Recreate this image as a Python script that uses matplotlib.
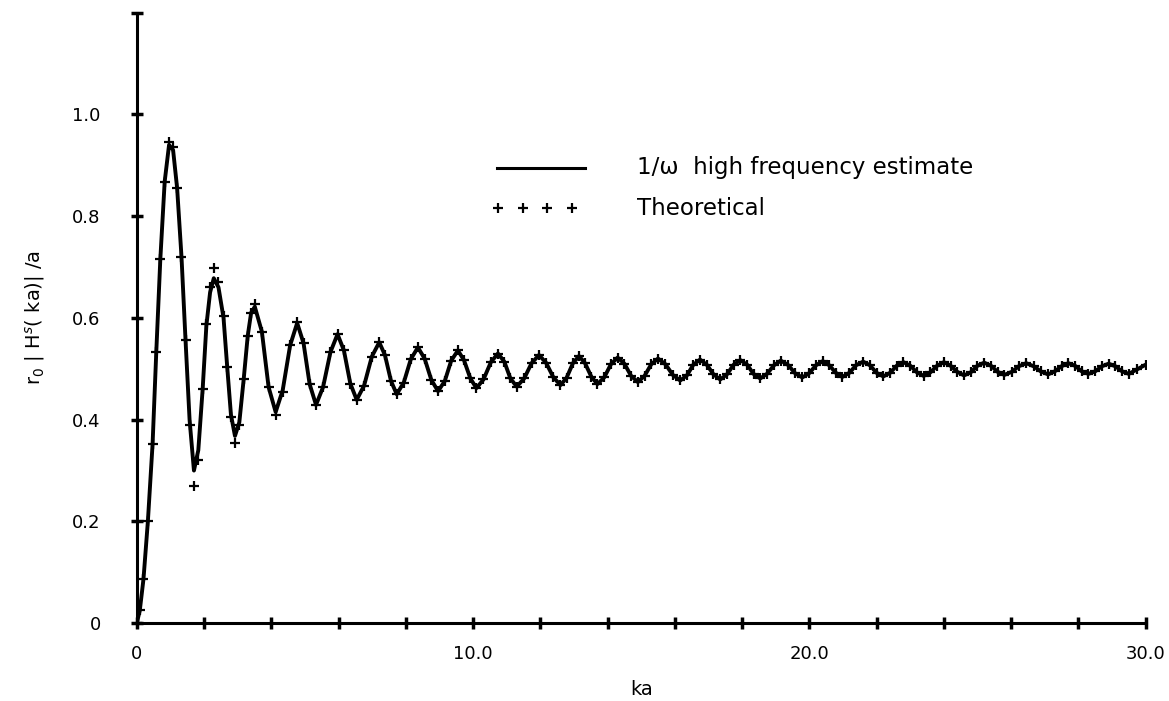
import matplotlib
matplotlib.use("Agg")
import matplotlib.pyplot as plt

# Digitised curve: ka values and the two series (estimate line, theoretical '+')
ka = [0.0, 0.09, 0.2, 0.33, 0.47, 0.58, 0.7, 0.83, 0.96, 1.08, 1.2, 1.33, 1.45, 1.57, 1.7,
      1.83, 1.96, 2.07, 2.18, 2.29, 2.43, 2.58, 2.69, 2.8, 2.92, 3.05, 3.18, 3.3, 3.4, 3.51,
      3.72, 3.92, 4.13, 4.34, 4.56, 4.77, 4.96, 5.14, 5.33, 5.54, 5.76, 5.97, 6.16, 6.35, 6.54,
      6.76, 6.99, 7.21, 7.38, 7.56, 7.73, 7.94, 8.15, 8.36, 8.56, 8.76, 8.96, 9.16, 9.35, 9.55,
      9.73, 9.92, 10.1,
      10.31, 10.53, 10.74, 10.93, 11.11, 11.3, 11.52, 11.74, 11.96, 12.17, 12.39, 12.6,
      12.78, 12.97, 13.15, 13.33, 13.52, 13.7, 13.9, 14.1, 14.3, 14.5, 14.7, 14.9,
      15.1, 15.3, 15.5, 15.72, 15.94, 16.16, 16.36, 16.55, 16.75, 16.95, 17.15, 17.35,
      17.55, 17.75, 17.95, 18.15, 18.34, 18.54, 18.74, 18.95, 19.15, 19.36, 19.58, 19.79,
      19.99, 20.2, 20.4, 20.59, 20.79, 20.98, 21.19, 21.39, 21.6, 21.8, 22.0, 22.2,
      22.4, 22.6, 22.8, 23.0, 23.2, 23.4, 23.6, 23.8, 24.0, 24.2, 24.4, 24.6,
      24.8, 25.0, 25.2, 25.4, 25.6, 25.8, 26.02, 26.23, 26.45, 26.67, 26.88, 27.1,
      27.3, 27.5, 27.7, 27.9, 28.1, 28.3, 28.5, 28.7, 28.9, 29.1, 29.3, 29.5,
      29.75, 30.0]

h_theory = [0.0, 0.025, 0.087, 0.2, 0.352, 0.533, 0.715, 0.868, 0.946, 0.935, 0.855, 0.72, 0.556, 0.39, 0.269,
            0.32, 0.461, 0.588, 0.66, 0.699, 0.67, 0.604, 0.503, 0.406, 0.354, 0.39, 0.48, 0.565, 0.61, 0.627,
            0.573, 0.464, 0.409, 0.455, 0.546, 0.591, 0.55, 0.47, 0.429, 0.464, 0.533, 0.568, 0.536, 0.471, 0.439,
            0.467, 0.524, 0.552, 0.527, 0.476, 0.45, 0.473, 0.519, 0.542, 0.52, 0.478, 0.456, 0.476, 0.516, 0.536,
            0.517, 0.481, 0.462,
            0.479, 0.513, 0.530, 0.514, 0.481, 0.465, 0.481, 0.511, 0.527, 0.512, 0.483, 0.468,
            0.482, 0.511, 0.525, 0.511, 0.484, 0.470, 0.483, 0.509, 0.522, 0.510, 0.486, 0.474,
            0.486, 0.509, 0.520, 0.509, 0.488, 0.477, 0.487, 0.508, 0.518, 0.508, 0.489, 0.479,
            0.489, 0.508, 0.517, 0.508, 0.490, 0.481, 0.490, 0.507, 0.516, 0.508, 0.491, 0.483,
            0.491, 0.507, 0.515, 0.507, 0.492, 0.484, 0.492, 0.507, 0.514, 0.507, 0.492, 0.485,
            0.492, 0.506, 0.513, 0.506, 0.493, 0.486, 0.493, 0.506, 0.513, 0.506, 0.494, 0.487,
            0.493, 0.506, 0.512, 0.506, 0.494, 0.488, 0.494, 0.505, 0.511, 0.505, 0.495, 0.489,
            0.495, 0.505, 0.511, 0.506, 0.495, 0.490, 0.495, 0.505, 0.510, 0.505, 0.495, 0.490,
            0.499, 0.508]

h_estimate = [0.0, 0.025, 0.087, 0.2, 0.352, 0.533, 0.715, 0.868, 0.94, 0.93, 0.855, 0.72, 0.556, 0.40, 0.30,
              0.34, 0.461, 0.585, 0.65, 0.678, 0.66, 0.60, 0.503, 0.41, 0.368, 0.395, 0.48, 0.565, 0.61, 0.622,
              0.573, 0.464, 0.415, 0.458, 0.546, 0.59, 0.55, 0.47, 0.429, 0.464, 0.533, 0.568, 0.536, 0.471, 0.439,
              0.467, 0.524, 0.552, 0.527, 0.476, 0.45, 0.473, 0.519, 0.542, 0.52, 0.478, 0.456, 0.476, 0.516, 0.536,
              0.517, 0.481, 0.462,
              0.479, 0.513, 0.530, 0.514, 0.481, 0.465, 0.481, 0.511, 0.527, 0.512, 0.483, 0.468,
              0.482, 0.511, 0.525, 0.511, 0.484, 0.470, 0.483, 0.509, 0.522, 0.510, 0.486, 0.474,
              0.486, 0.509, 0.520, 0.509, 0.488, 0.477, 0.487, 0.508, 0.518, 0.508, 0.489, 0.479,
              0.489, 0.508, 0.517, 0.508, 0.490, 0.481, 0.490, 0.507, 0.516, 0.508, 0.491, 0.483,
              0.491, 0.507, 0.515, 0.507, 0.492, 0.484, 0.492, 0.507, 0.514, 0.507, 0.492, 0.485,
              0.492, 0.506, 0.513, 0.506, 0.493, 0.486, 0.493, 0.506, 0.513, 0.506, 0.494, 0.487,
              0.493, 0.506, 0.512, 0.506, 0.494, 0.488, 0.494, 0.505, 0.511, 0.505, 0.495, 0.489,
              0.495, 0.505, 0.511, 0.506, 0.495, 0.490, 0.495, 0.505, 0.510, 0.505, 0.495, 0.490,
              0.499, 0.508]

# Axis ticks
x_ticks = [0, 2, 4, 6, 8, 10, 12, 14, 16, 18, 20, 22, 24, 26, 28, 30]
x_tick_labels = ['0', '', '', '', '', '10.0', '', '', '', '', '20.0', '', '', '', '', '30.0']
y_ticks = [0, 0.2, 0.4, 0.6, 0.8, 1.0, 1.2]
y_tick_labels = ['0', '0.2', '0.4', '0.6', '0.8', '1.0', '']

fig = plt.figure(figsize=(11.69, 7.01), dpi=100)
ax = fig.add_axes([0.117, 0.111, 0.863, 0.871])

ax.plot(ka, h_estimate, color='black', lw=2.8, solid_joinstyle='round')
ax.plot(ka, h_theory, ls='none', marker='+', ms=7, mew=1.6, color='black')

ax.set_xlim(0, 30)
ax.set_ylim(0, 1.2)
for side in ['top', 'right']:
    ax.spines[side].set_visible(False)
for side in ['left', 'bottom']:
    ax.spines[side].set_linewidth(2.2)

ax.set_xticks(x_ticks)
ax.set_xticklabels(x_tick_labels)
ax.set_yticks(y_ticks)
ax.set_yticklabels(y_tick_labels)
ax.tick_params(direction='inout', length=8, width=2.5, labelsize=13)
ax.tick_params(axis='x', pad=12)
ax.tick_params(axis='y', pad=22)

ax.set_xlabel('ka', fontsize=14, labelpad=12)
ax.set_ylabel(r'r$_0$ | H$^s$( ka)| /a', fontsize=14, labelpad=18)

# hand-drawn legend, in axes fraction
ax.plot([0.357, 0.444], [0.746, 0.746], transform=ax.transAxes, color='black', lw=2.2)
ax.plot([0.358, 0.383, 0.407, 0.431], [0.680] * 4, transform=ax.transAxes,
        ls='none', marker='+', ms=7, mew=1.6, color='black')
ax.text(0.496, 0.746, '1/\u03c9  high frequency estimate', transform=ax.transAxes,
        fontsize=16.5, va='center', ha='left')
ax.text(0.496, 0.680, 'Theoretical', transform=ax.transAxes,
        fontsize=16.5, va='center', ha='left')

fig.savefig('out.png', dpi=100)
